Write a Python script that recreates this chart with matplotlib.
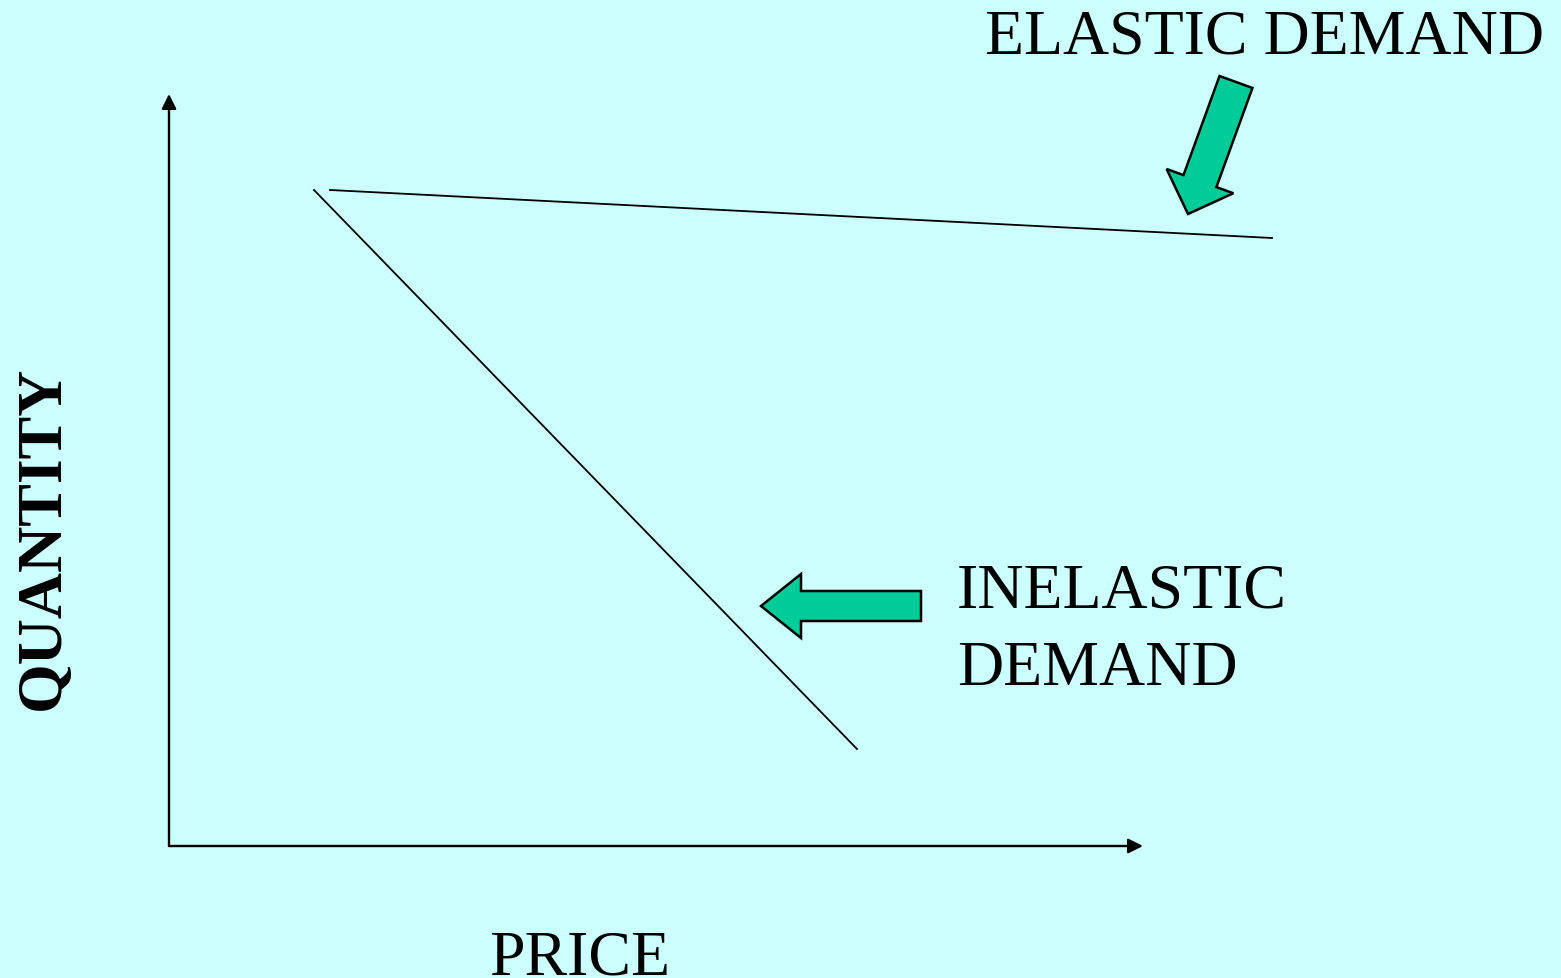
import matplotlib.pyplot as plt
from matplotlib.patches import FancyArrow, FancyArrowPatch

# demand curves (units measured from the axis origin)
elastic_price = [161, 1103]
elastic_qty = [656, 608]
inelastic_price = [145, 688]
inelastic_qty = [656, 97]

price_axis_end = 974
qty_axis_end = 752

labels = ["ELASTIC DEMAND", "INELASTIC", "DEMAND"]
x_label = "PRICE"
y_label = "QUANTITY"

bg = "#CCFFFF"
green = "#00CC99"
font = "Liberation Serif"

fig = plt.figure(figsize=(15.61, 9.79), dpi=100, facecolor=bg)
ax = fig.add_axes([0, 0, 1, 1])
ax.set_facecolor(bg)
ax.set_xlim(-169, 1392)
ax.set_ylim(-132, 847)
ax.axis("off")

# axes with arrow heads
for end in [(price_axis_end, 0), (0, qty_axis_end)]:
    ax.add_patch(FancyArrowPatch((0, 0), end, arrowstyle="-|>", mutation_scale=22,
                                 color="black", lw=1.7, shrinkA=0, shrinkB=0))

ax.plot(elastic_price, elastic_qty, color="black", lw=1.3)
ax.plot(inelastic_price, inelastic_qty, color="black", lw=1.3)

# block arrows pointing at the curves
ax.add_patch(FancyArrow(1067, 764, -48, -132, width=35, head_width=71, head_length=35,
                        length_includes_head=True, facecolor=green, edgecolor="black", lw=1.8))
ax.add_patch(FancyArrow(752, 240, -160, 0, width=30, head_width=64, head_length=40,
                        length_includes_head=True, facecolor=green, edgecolor="black", lw=1.8))

ax.text(816, 793, labels[0], fontsize=46, family=font, va="baseline")
ax.text(788, 239, labels[1], fontsize=46, family=font, va="baseline")
ax.text(788, 162, labels[2], fontsize=46, family=font, va="baseline")
ax.text(320, -128, x_label, fontsize=46, family=font, va="baseline")
ax.text(-125, 309, y_label, fontsize=46, family=font, fontweight="bold",
        rotation=90, ha="center", va="center")

fig.savefig("out.png", dpi=100, facecolor=bg)
